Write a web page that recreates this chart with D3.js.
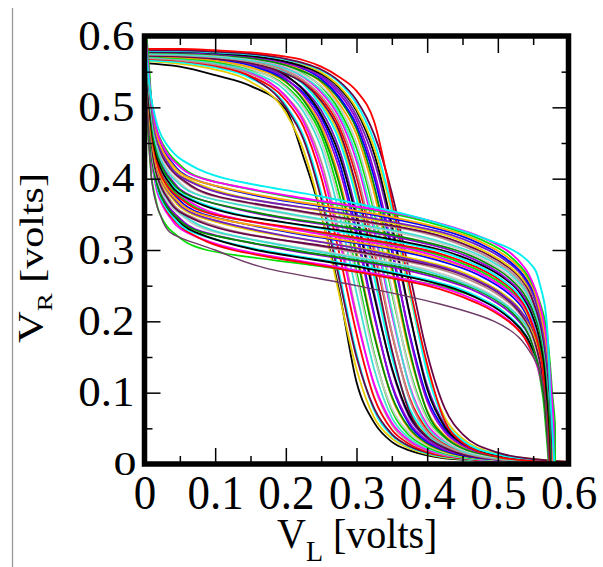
<!DOCTYPE html>
<html>
<head>
<meta charset="utf-8">
<script src="https://cdn.jsdelivr.net/npm/d3@7"></script>
<style>
  body { margin: 0; background: #fff; }
  svg { display: block; }
</style>
</head>
<body>
<div id="chart"></div>
<script>
// sweep voltage, shared by both families (V_L for the first, V_R for the second)
const sweep = [0, 0.05, 0.1, 0.15, 0.2, 0.225, 0.25, 0.275, 0.3, 0.325, 0.35, 0.375, 0.4, 0.425, 0.45, 0.5, 0.55, 0.6];

const tickMajor = [0, 0.1, 0.2, 0.3, 0.4, 0.5, 0.6];
const tickMinor = [0.05, 0.15, 0.25, 0.35, 0.45, 0.55];

// V_R = f(V_L), one row per Monte Carlo sample
const curvesA = [
  [0.562,0.557,0.545,0.530,0.497,0.430,0.350,0.245,0.115,0.058,0.031,0.019,0.012,0.008,0.006,0.003,0.001,0],
  [0.565,0.561,0.553,0.536,0.492,0.440,0.352,0.240,0.133,0.065,0.036,0.022,0.014,0.009,0.007,0.003,0.001,0],
  [0.566,0.563,0.556,0.541,0.503,0.460,0.380,0.270,0.155,0.075,0.040,0.024,0.015,0.010,0.007,0.003,0.001,0],
  [0.570,0.567,0.559,0.543,0.500,0.455,0.372,0.262,0.150,0.078,0.042,0.025,0.016,0.011,0.008,0.004,0.001,0],
  [0.568,0.565,0.558,0.544,0.510,0.473,0.402,0.298,0.183,0.093,0.048,0.028,0.017,0.011,0.008,0.003,0.001,0],
  [0.569,0.566,0.560,0.547,0.516,0.484,0.424,0.327,0.210,0.110,0.055,0.031,0.019,0.012,0.009,0.004,0.001,0],
  [0.573,0.570,0.563,0.549,0.515,0.480,0.415,0.318,0.205,0.112,0.058,0.033,0.020,0.013,0.009,0.004,0.001,0],
  [0.570,0.568,0.562,0.550,0.523,0.494,0.443,0.353,0.240,0.133,0.065,0.036,0.022,0.014,0.009,0.005,0.002,0],
  [0.572,0.569,0.564,0.553,0.530,0.504,0.461,0.380,0.270,0.155,0.075,0.040,0.024,0.015,0.010,0.005,0.002,0],
  [0.575,0.572,0.566,0.554,0.528,0.500,0.452,0.370,0.262,0.152,0.078,0.043,0.026,0.016,0.011,0.005,0.002,0],
  [0.573,0.570,0.566,0.556,0.535,0.512,0.474,0.402,0.298,0.183,0.093,0.048,0.028,0.017,0.011,0.006,0.003,0.001],
  [0.578,0.575,0.570,0.559,0.536,0.510,0.468,0.395,0.292,0.180,0.095,0.050,0.029,0.018,0.012,0.006,0.002,0],
  [0.574,0.572,0.568,0.559,0.539,0.520,0.486,0.425,0.327,0.210,0.110,0.055,0.031,0.019,0.012,0.006,0.003,0.001],
  [0.577,0.575,0.571,0.561,0.540,0.517,0.480,0.416,0.320,0.207,0.112,0.058,0.033,0.020,0.013,0.006,0.003,0],
  [0.575,0.573,0.569,0.561,0.543,0.526,0.496,0.443,0.353,0.240,0.133,0.065,0.036,0.022,0.014,0.007,0.003,0.001],
  [0.579,0.577,0.573,0.564,0.545,0.524,0.490,0.435,0.345,0.235,0.135,0.068,0.038,0.023,0.014,0.007,0.003,0],
  [0.576,0.574,0.571,0.564,0.548,0.533,0.506,0.462,0.380,0.270,0.155,0.075,0.040,0.024,0.015,0.007,0.003,0.001],
  [0.579,0.577,0.574,0.566,0.549,0.532,0.502,0.455,0.372,0.262,0.150,0.078,0.042,0.025,0.016,0.008,0.003,0],
  [0.572,0.571,0.568,0.562,0.547,0.534,0.509,0.468,0.388,0.278,0.160,0.073,0.038,0.023,0.014,0.007,0.003,0.001],
  [0.577,0.575,0.572,0.566,0.551,0.537,0.513,0.474,0.402,0.298,0.183,0.093,0.048,0.028,0.017,0.008,0.003,0.001],
  [0.574,0.573,0.570,0.564,0.551,0.538,0.516,0.480,0.410,0.305,0.185,0.090,0.045,0.026,0.016,0.007,0.003,0],
  [0.578,0.577,0.574,0.568,0.555,0.542,0.521,0.487,0.425,0.327,0.210,0.110,0.055,0.031,0.019,0.009,0.004,0.001],
  [0.575,0.574,0.571,0.566,0.554,0.543,0.524,0.492,0.432,0.335,0.215,0.108,0.052,0.030,0.018,0.008,0.003,0.001],
  [0.579,0.578,0.575,0.570,0.558,0.547,0.529,0.497,0.443,0.353,0.240,0.133,0.065,0.036,0.022,0.009,0.005,0.002],
  [0.577,0.576,0.573,0.568,0.557,0.546,0.530,0.502,0.450,0.360,0.245,0.130,0.062,0.034,0.020,0.009,0.004,0.001],
  [0.580,0.579,0.577,0.572,0.561,0.551,0.535,0.506,0.462,0.380,0.270,0.155,0.075,0.040,0.024,0.010,0.005,0.002],
  [0.577,0.576,0.574,0.569,0.559,0.550,0.537,0.512,0.470,0.390,0.278,0.160,0.073,0.038,0.022,0.010,0.004,0.001],
  [0.580,0.580,0.577,0.573,0.563,0.554,0.540,0.515,0.475,0.402,0.298,0.183,0.093,0.048,0.028,0.011,0.006,0.002],
  [0.578,0.577,0.575,0.571,0.562,0.555,0.543,0.520,0.482,0.410,0.305,0.180,0.088,0.045,0.026,0.011,0.005,0.002],
  [0.581,0.581,0.578,0.574,0.566,0.558,0.545,0.524,0.488,0.425,0.327,0.210,0.110,0.055,0.031,0.012,0.006,0.003],
  [0.578,0.578,0.576,0.572,0.564,0.557,0.547,0.528,0.495,0.435,0.335,0.212,0.105,0.052,0.029,0.012,0.005,0.002],
  [0.581,0.581,0.579,0.575,0.567,0.560,0.549,0.530,0.498,0.443,0.353,0.240,0.133,0.065,0.036,0.014,0.007,0.003],
  [0.579,0.579,0.577,0.574,0.567,0.561,0.552,0.535,0.505,0.452,0.360,0.245,0.128,0.060,0.033,0.013,0.006,0.002],
  [0.580,0.580,0.578,0.575,0.568,0.562,0.553,0.537,0.510,0.462,0.380,0.268,0.155,0.078,0.042,0.016,0.007,0.003],
  [0.582,0.582,0.580,0.577,0.571,0.566,0.557,0.543,0.523,0.480,0.370,0.250,0.140,0.060,0.030,0.010,0.004,0.001]
];

// V_L = g(V_R), one row per Monte Carlo sample
const curvesB = [
  [0.572,0.568,0.563,0.552,0.522,0.490,0.415,0.265,0.088,0.040,0.022,0.015,0.010,0.008,0.006,0.003,0.001,0],
  [0.573,0.569,0.564,0.551,0.517,0.478,0.411,0.280,0.133,0.059,0.033,0.020,0.014,0.010,0.008,0.004,0.001,0],
  [0.575,0.571,0.565,0.552,0.515,0.472,0.400,0.268,0.125,0.062,0.035,0.022,0.015,0.011,0.008,0.004,0.001,0],
  [0.574,0.570,0.565,0.553,0.524,0.490,0.432,0.320,0.165,0.068,0.037,0.022,0.015,0.011,0.008,0.004,0.001,0],
  [0.577,0.573,0.567,0.554,0.522,0.486,0.425,0.310,0.158,0.072,0.040,0.024,0.016,0.012,0.009,0.004,0.001,0],
  [0.575,0.571,0.566,0.555,0.530,0.500,0.449,0.355,0.203,0.084,0.044,0.025,0.017,0.011,0.009,0.005,0.002,0],
  [0.573,0.569,0.564,0.554,0.532,0.505,0.456,0.365,0.210,0.080,0.041,0.024,0.016,0.011,0.008,0.004,0.002,0],
  [0.576,0.571,0.567,0.557,0.535,0.510,0.465,0.390,0.240,0.100,0.050,0.028,0.018,0.012,0.010,0.005,0.002,0],
  [0.578,0.574,0.569,0.559,0.536,0.508,0.460,0.380,0.232,0.105,0.053,0.030,0.019,0.013,0.010,0.005,0.002,0],
  [0.576,0.572,0.567,0.559,0.539,0.517,0.478,0.411,0.280,0.133,0.059,0.033,0.020,0.014,0.010,0.006,0.002,0.001],
  [0.574,0.570,0.566,0.558,0.540,0.520,0.484,0.420,0.290,0.128,0.056,0.031,0.019,0.013,0.010,0.005,0.002,0],
  [0.576,0.572,0.568,0.561,0.542,0.524,0.490,0.432,0.320,0.165,0.068,0.037,0.022,0.015,0.011,0.006,0.003,0.001],
  [0.579,0.575,0.571,0.563,0.543,0.522,0.486,0.425,0.312,0.172,0.072,0.039,0.023,0.016,0.012,0.006,0.002,0],
  [0.576,0.573,0.569,0.562,0.545,0.530,0.500,0.449,0.355,0.203,0.084,0.044,0.025,0.017,0.011,0.007,0.003,0.001],
  [0.574,0.571,0.567,0.561,0.546,0.533,0.506,0.457,0.365,0.210,0.080,0.041,0.024,0.016,0.011,0.006,0.003,0],
  [0.576,0.573,0.569,0.563,0.548,0.535,0.510,0.465,0.390,0.240,0.100,0.050,0.028,0.018,0.012,0.007,0.003,0.001],
  [0.579,0.576,0.572,0.565,0.549,0.534,0.505,0.458,0.380,0.232,0.105,0.054,0.030,0.019,0.013,0.007,0.003,0],
  [0.573,0.571,0.567,0.561,0.547,0.536,0.514,0.472,0.398,0.250,0.097,0.047,0.026,0.017,0.012,0.007,0.003,0.001],
  [0.577,0.575,0.570,0.565,0.551,0.539,0.517,0.478,0.411,0.280,0.133,0.059,0.033,0.020,0.014,0.008,0.004,0.001],
  [0.575,0.573,0.569,0.564,0.552,0.541,0.522,0.485,0.420,0.292,0.128,0.056,0.031,0.019,0.013,0.007,0.003,0.001],
  [0.578,0.576,0.572,0.567,0.555,0.543,0.524,0.490,0.432,0.320,0.165,0.068,0.037,0.022,0.015,0.008,0.004,0.001],
  [0.576,0.574,0.571,0.566,0.555,0.545,0.528,0.496,0.440,0.330,0.172,0.066,0.035,0.021,0.014,0.008,0.004,0.001],
  [0.579,0.578,0.574,0.569,0.558,0.548,0.531,0.500,0.449,0.355,0.203,0.084,0.044,0.025,0.017,0.009,0.005,0.002],
  [0.577,0.576,0.572,0.567,0.557,0.548,0.534,0.506,0.456,0.365,0.210,0.082,0.041,0.024,0.016,0.009,0.004,0.001],
  [0.579,0.578,0.575,0.570,0.560,0.551,0.537,0.511,0.465,0.390,0.240,0.100,0.050,0.028,0.018,0.010,0.005,0.002],
  [0.577,0.576,0.573,0.568,0.559,0.551,0.540,0.516,0.472,0.398,0.250,0.104,0.052,0.029,0.019,0.010,0.005,0.002],
  [0.580,0.580,0.576,0.571,0.563,0.555,0.542,0.519,0.478,0.411,0.280,0.133,0.059,0.033,0.020,0.010,0.006,0.002],
  [0.578,0.577,0.574,0.569,0.561,0.554,0.544,0.524,0.486,0.420,0.290,0.128,0.056,0.031,0.019,0.010,0.005,0.002],
  [0.580,0.580,0.576,0.572,0.565,0.557,0.546,0.527,0.492,0.432,0.320,0.165,0.068,0.037,0.022,0.011,0.006,0.002],
  [0.578,0.578,0.575,0.571,0.563,0.557,0.548,0.531,0.498,0.440,0.330,0.172,0.066,0.035,0.021,0.011,0.005,0.002],
  [0.581,0.581,0.577,0.573,0.567,0.560,0.550,0.534,0.505,0.449,0.355,0.203,0.084,0.044,0.025,0.011,0.007,0.003],
  [0.579,0.579,0.576,0.572,0.565,0.559,0.551,0.538,0.512,0.458,0.365,0.210,0.082,0.041,0.024,0.011,0.006,0.002]
];
// the two samples that stand out in the second family
const edgeB    = [0.580,0.577,0.574,0.572,0.569,0.566,0.560,0.551,0.521,0.455,0.370,0.250,0.115,0.055,0.030,0.012,0.005,0.001];
const outlierB = [0.572,0.570,0.566,0.550,0.495,0.415,0.300,0.170,0.100,0.036,0.022,0.014,0.010,0.008,0.006,0.004,0.002,0];

// xmgrace default colour map
const palette = ["#000000", "#ff0000", "#00e000", "#0000ff", "#e6cc00", "#bc8f8f", "#c8c8c8",
                 "#9400d3", "#00ffff", "#ff00ff", "#ffa500", "#7221bc", "#670748", "#40e0d0", "#008b00"];

const serif = "Liberation Serif";
const width = 603;
const height = 567;

const x = d3.scaleLinear().domain([0, 0.6]).range([144.5, 568.5]);
const y = d3.scaleLinear().domain([0, 0.6]).range([464, 36]);

const svg = d3.select("#chart")
    .append("svg")
    .attr("width", width)
    .attr("height", height);

// thin page rule on the left
svg.append("line")
    .attr("x1", 12.5).attr("x2", 12.5)
    .attr("y1", 8).attr("y2", height)
    .attr("stroke", "#9a9a9a")
    .attr("stroke-width", 1.3);

svg.append("clipPath")
    .attr("id", "plot-area")
    .append("rect")
    .attr("x", x(0))
    .attr("y", y(0.6))
    .attr("width", x(0.6) - x(0))
    .attr("height", y(0) - y(0.6));

const lineA = d3.line()
    .x((d, i) => x(sweep[i]))
    .y(d => y(d))
    .curve(d3.curveMonotoneX);

const lineB = d3.line()
    .x(d => x(d))
    .y((d, i) => y(sweep[i]))
    .curve(d3.curveMonotoneY);

const plot = svg.append("g").attr("clip-path", "url(#plot-area)");

plot.selectAll(".curve-a")
    .data(curvesA)
    .enter()
    .append("path")
    .attr("class", "curve-a")
    .attr("d", lineA)
    .attr("fill", "none")
    .attr("stroke", (d, i) => palette[(i * 4) % palette.length])
    .attr("stroke-width", 1.8);

plot.selectAll(".curve-b")
    .data(curvesB)
    .enter()
    .append("path")
    .attr("class", "curve-b")
    .attr("d", lineB)
    .attr("fill", "none")
    .attr("stroke", (d, i) => palette[(i * 7 + 2) % palette.length])
    .attr("stroke-width", 1.8);

plot.append("path")
    .attr("d", lineB(outlierB))
    .attr("fill", "none")
    .attr("stroke", "#6e3a66")
    .attr("stroke-width", 1.4);

plot.append("path")
    .attr("d", lineB(edgeB))
    .attr("fill", "none")
    .attr("stroke", "#00f0f0")
    .attr("stroke-width", 1.9);

const fmt = d => d === 0 ? "0" : d.toFixed(1);

function styleAxis(g) {
    g.attr("font-family", serif).attr("font-size", null);
    g.select(".domain").remove();
    g.selectAll(".tick line").attr("stroke", "#000").attr("stroke-width", 1.5);
    g.selectAll("text").attr("font-family", serif).attr("fill", "#000");
}

// bottom: major ticks with labels, then minor ticks
const gx = svg.append("g")
    .attr("transform", `translate(0,${y(0)})`)
    .call(d3.axisBottom(x).tickValues(tickMajor).tickSizeInner(-16).tickSizeOuter(0).tickPadding(10).tickFormat(fmt))
    .call(styleAxis);
gx.selectAll("text")
    .attr("font-size", 45)
    .attr("transform", "scale(1,1.08)");

svg.append("g")
    .attr("transform", `translate(0,${y(0)})`)
    .call(d3.axisBottom(x).tickValues(tickMinor).tickSizeInner(-8).tickSizeOuter(0).tickFormat(""))
    .call(styleAxis);

// left: major ticks with labels, then minor ticks
const gy = svg.append("g")
    .attr("transform", `translate(${x(0)},0)`)
    .call(d3.axisLeft(y).tickValues(tickMajor).tickSizeInner(-16).tickSizeOuter(0).tickPadding(10).tickFormat(fmt))
    .call(styleAxis);
gy.selectAll("text")
    .attr("font-size", 45)
    .attr("transform", "scale(1,0.92)");
gy.selectAll("text").filter(d => d === 0)
    .attr("font-size", 46)
    .attr("x", -8)
    .attr("transform", "scale(1,0.72)");

svg.append("g")
    .attr("transform", `translate(${x(0)},0)`)
    .call(d3.axisLeft(y).tickValues(tickMinor).tickSizeInner(-8).tickSizeOuter(0).tickFormat(""))
    .call(styleAxis);

// top and right mirror ticks
svg.append("g")
    .attr("transform", `translate(0,${y(0.6)})`)
    .call(d3.axisTop(x).tickValues(tickMajor).tickSizeInner(-17).tickSizeOuter(0).tickFormat(""))
    .call(styleAxis);
svg.append("g")
    .attr("transform", `translate(0,${y(0.6)})`)
    .call(d3.axisTop(x).tickValues(tickMinor).tickSizeInner(-9).tickSizeOuter(0).tickFormat(""))
    .call(styleAxis);
svg.append("g")
    .attr("transform", `translate(${x(0.6)},0)`)
    .call(d3.axisRight(y).tickValues(tickMajor).tickSizeInner(-16).tickSizeOuter(0).tickFormat(""))
    .call(styleAxis);
svg.append("g")
    .attr("transform", `translate(${x(0.6)},0)`)
    .call(d3.axisRight(y).tickValues(tickMinor).tickSizeInner(-7).tickSizeOuter(0).tickFormat(""))
    .call(styleAxis);

// heavy frame
svg.append("rect")
    .attr("x", x(0))
    .attr("y", y(0.6))
    .attr("width", x(0.6) - x(0))
    .attr("height", y(0) - y(0.6))
    .attr("fill", "none")
    .attr("stroke", "#000")
    .attr("stroke-width", 5.5);

// axis titles
const xTitle = svg.append("text")
    .attr("font-family", serif)
    .attr("fill", "#000")
    .attr("transform", "translate(277,548) scale(1,1.06)");
xTitle.append("tspan").attr("font-size", 40).text("V");
xTitle.append("tspan").attr("font-size", 28).attr("dy", 12).text("L");
xTitle.append("tspan").attr("font-size", 40).attr("dy", -12).text(" [volts]");

const yTitle = svg.append("text")
    .attr("font-family", serif)
    .attr("fill", "#000")
    .attr("transform", "translate(43,343) rotate(-90) scale(1,0.8)");
yTitle.append("tspan").attr("font-size", 44).text("V");
yTitle.append("tspan").attr("font-size", 27).attr("dy", 11).text("R");
yTitle.append("tspan").attr("font-size", 42).attr("dy", -11).text(" [volts]");
</script>
</body>
</html>
